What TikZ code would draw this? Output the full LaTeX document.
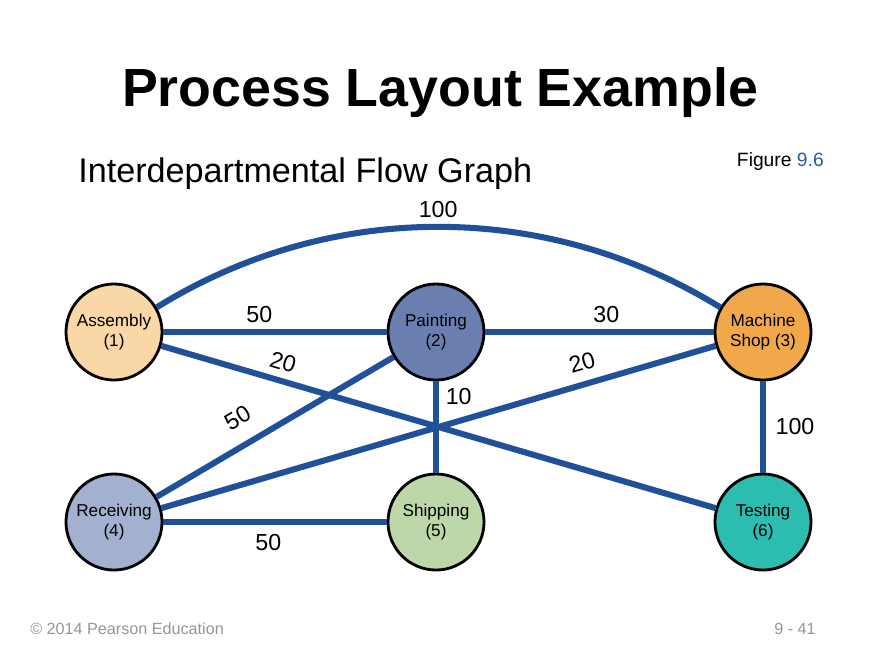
\documentclass[tikz,border=0pt]{standalone}
\usepackage{fontspec}
\setmainfont{Liberation Sans}
\usetikzlibrary{positioning}
\definecolor{flowblue}{RGB}{31,80,152}
\definecolor{figblue}{RGB}{40,92,168}
\definecolor{asmfill}{RGB}{250,215,166}
\definecolor{paintfill}{RGB}{106,126,176}
\definecolor{machfill}{RGB}{240,168,74}
\definecolor{recvfill}{RGB}{164,176,207}
\definecolor{shipfill}{RGB}{190,215,168}
\definecolor{testfill}{RGB}{44,189,176}
\definecolor{footgray}{RGB}{150,150,150}

\begin{document}
\begin{tikzpicture}[x=0.025cm,y=-0.025cm,
    dept/.style={circle,draw=black,line width=2pt,minimum size=2.4cm,inner sep=0pt,
                 align=center,font=\fontsize{12.2}{14}\selectfont},
    flow/.style={draw=flowblue,line width=4.3pt},
    qty/.style={font=\fontsize{16.5}{18}\selectfont}]
    \useasboundingbox (0,0) rectangle (880,660);
    \node[anchor=base,font=\fontsize{38.2}{44}\selectfont\bfseries] (title) at (440,106) {Process Layout Example};
    \node[anchor=base west,inner sep=0pt,font=\fontsize{24.3}{28}\selectfont] (subtitle) at (78,182) {Interdepartmental Flow Graph};
    \node[anchor=base east,inner sep=0pt,font=\fontsize{13.7}{16}\selectfont] (fig) at (824,166) {Figure \textcolor{figblue}{9.6}};
    % departments
    \foreach \nm/\x/\y/\col/\txt in {asm/114/332/asmfill/{Assembly\\(1)},
        paint/436/332/paintfill/{Painting\\(2)},
        mach/763/332/machfill/{Machine\\Shop (3)},
        recv/114/522/recvfill/{Receiving\\(4)},
        ship/436/522/shipfill/{Shipping\\(5)},
        test/763/522/testfill/{Testing\\(6)}} {
        \node[dept,fill=\col] (\nm) at (\x,\y) {\txt};
    }
    % flows between departments
    \draw[flow] (asm.30) .. controls (330,200) and (546,200) .. (mach.150)
        node[qty,pos=0.5,above=1pt] {100};
    \draw[flow] (asm) -- (paint) node[qty,pos=0.43,above=1pt] {50};
    \draw[flow] (paint) -- (mach) node[qty,pos=0.53,above=1pt] {30};
    \draw[flow] (asm) -- (test) node[qty,pos=0.21,sloped,above=2pt] {20};
    \draw[flow] (recv) -- (paint) node[qty,pos=0.4,sloped,above=8pt] {50};
    \draw[flow] (recv) -- (mach) node[qty,pos=0.77,sloped,above=4pt] {20};
    \draw[flow] (paint) -- (ship) node[qty,pos=0.17,right=1.5pt] {10};
    \draw[flow] (mach) -- (test) node[qty,pos=0.49,right=3.5pt] {100};
    \draw[flow] (recv) -- (ship) node[qty,pos=0.47,below=3pt] {50};
    % footer
    \node[anchor=base west,inner sep=0pt,text=footgray,font=\fontsize{11.5}{13}\selectfont] (copy) at (30,634) {\textcopyright{} 2014 Pearson Education};
    \node[anchor=base east,inner sep=0pt,text=footgray,font=\fontsize{11.5}{13}\selectfont] (page) at (816,634) {9 - 41};
\end{tikzpicture}
\end{document}
